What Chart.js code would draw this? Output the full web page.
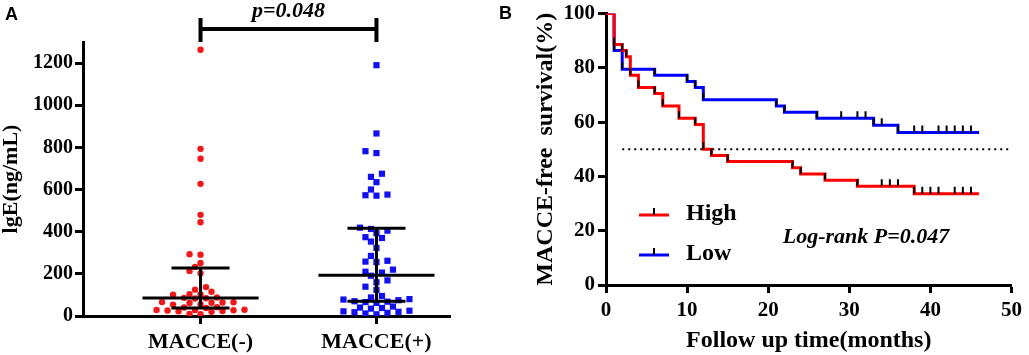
<!DOCTYPE html>
<html lang="en">
<head>
<meta charset="UTF-8">
<title>IgE by MACCE group and MACCE-free survival</title>
<script src="https://cdn.jsdelivr.net/npm/chart.js"></script>
<style>
  body { margin: 0; background: #fff; }
  .panel { position: absolute; top: 0; }
  #chartA { left: 0; }
  #chartB { left: 480px; }
</style>
</head>
<body>
<canvas id="chartA" class="panel" width="470" height="355"></canvas>
<canvas id="chartB" class="panel" width="549" height="355"></canvas>
<script>
// ---- panel A data: IgE (ng/mL) per patient ----
const groupLabels = ["MACCE(-)", "MACCE(+)"];
const macceNeg = [1263, 793, 746, 627, 480, 445, 293, 291, 252, 233, 214, 203, 137, 125, 115,
  104, 102, 101, 88, 86, 84, 83, 66, 65, 64, 63, 62, 56, 54, 42, 40, 38, 30, 29, 28, 27, 26,
  24, 22, 20, 10, 8];
const maccePos = [1190, 866, 782, 773, 675, 660, 635, 600, 576, 573, 571, 419, 413, 405, 393,
  374, 370, 353, 323, 285, 262, 258, 256, 220, 210, 206, 191, 169, 160, 139, 124, 95, 88, 80,
  78, 75, 70, 68, 66, 62, 45, 40, 38, 35, 25, 22, 20, 18, 15, 12, 8];
const groupMedian = [85, 193];
const groupQ1 = [38, 70];
const groupQ3 = [228, 416];
const igeTicks = [0, 200, 400, 600, 800, 1000, 1200];
const pValueA = "p=0.048";

// ---- panel B data: Kaplan-Meier steps (months, % MACCE-free) ----
const highTime = [0, 1, 2, 2.5, 3, 4, 6, 7, 9, 11, 12, 13, 15, 23, 24, 27, 31, 38, 46];
const highSurv = [100, 88.6, 86.4, 84.1, 77.3, 72.7, 70.5, 65.9, 61.4, 59.1, 50, 47.7, 45.5,
  43.2, 40.9, 38.6, 36.4, 33.6, 33.6];
const highCensor = [34, 35, 36, 39, 40, 41, 43, 44, 45];
const lowTime = [0, 1, 2, 6, 10, 11, 12, 21, 22, 26, 33, 36, 46];
const lowSurv = [100, 86.4, 79.5, 77.3, 75, 72.7, 68.2, 65.9, 63.6, 61.4, 58.8, 56.2, 56.2];
const lowCensor = [29, 31, 32, 34, 38, 39, 41, 42, 43, 44, 45];
const monthTicks = [0, 10, 20, 30, 40, 50];
const survTicks = [0, 20, 40, 60, 80, 100];
const refLevel = 50;
const refStart = 2;
const logRankText = "Log-rank P=0.047";

const SERIF = '"Liberation Serif", "Times New Roman", serif';
const RED = '#ff0000';
const BLUE = '#0000ff';
Chart.defaults.font.family = SERIF;
Chart.defaults.color = '#000';

// simple beeswarm: spread close values sideways so dots don't overlap
function swarm(values, centre) {
  const pxX = 176, pxY = 274 / 1300, gap = 6.6, step = 5.5;
  const placed = [];
  return values.slice().sort((a, b) => a - b).map(v => {
    const py = v * pxY;
    for (let k = 0; k < 60; k++) {
      const offs = k === 0 ? [0] : [-k * step, k * step];
      for (const ox of offs) {
        if (placed.every(p => (p.x - ox) ** 2 + (p.y - py) ** 2 >= gap * gap)) {
          placed.push({ x: ox, y: py });
          return { x: centre + ox / pxX, y: v };
        }
      }
    }
  });
}

// median line + interquartile whiskers for one group, null-separated segments
function errorBars(i) {
  const c = i + 1, med = groupMedian[i], lo = groupQ1[i], hi = groupQ3[i];
  return [
    { x: c - 0.33, y: med }, { x: c + 0.33, y: med }, { x: c, y: null },
    { x: c - 0.165, y: hi }, { x: c + 0.165, y: hi }, { x: c, y: null },
    { x: c - 0.165, y: lo }, { x: c + 0.165, y: lo }, { x: c, y: null },
    { x: c, y: lo }, { x: c, y: hi }
  ];
}

const axisGrid = { display: true, drawOnChartArea: false, drawTicks: true, tickLength: 8,
  tickWidth: 3, tickColor: '#000', color: '#000' };
const axisBorder = { display: true, color: '#000', width: 3 };
const tickFont = (size) => ({ family: SERIF, size: size, weight: 'bold', lineHeight: 1 });
const plain = v => String(v);

const annotA = {
  id: 'annotA',
  afterDraw(chart) {
    const ctx = chart.ctx, x = chart.scales.x;
    const x1 = x.getPixelForValue(1), x2 = x.getPixelForValue(2);
    ctx.save();
    ctx.strokeStyle = '#000';
    ctx.lineWidth = 4;
    ctx.beginPath();
    ctx.moveTo(x1, 29); ctx.lineTo(x2, 29);
    ctx.moveTo(x1, 18); ctx.lineTo(x1, 42);
    ctx.moveTo(x2, 18); ctx.lineTo(x2, 42);
    ctx.stroke();
    ctx.fillStyle = '#000';
    ctx.textAlign = 'center';
    ctx.textBaseline = 'alphabetic';
    ctx.font = 'italic bold 22px ' + SERIF;
    ctx.fillText(pValueA, (x1 + x2) / 2, 17);
    ctx.textAlign = 'left';
    ctx.font = 'bold 18px "Liberation Sans", Arial, sans-serif';
    ctx.fillText('A', 5, 20);
    ctx.restore();
  }
};

new Chart(document.getElementById('chartA'), {
  type: 'scatter',
  data: {
    datasets: [
      { data: errorBars(0), showLine: true, borderColor: '#000', borderWidth: 3, pointRadius: 0, spanGaps: false },
      { data: errorBars(1), showLine: true, borderColor: '#000', borderWidth: 3, pointRadius: 0, spanGaps: false },
      { label: groupLabels[0], data: swarm(macceNeg, 1), pointStyle: 'circle', pointRadius: 3.2,
        backgroundColor: '#f01818', borderWidth: 0 },
      { label: groupLabels[1], data: swarm(maccePos, 2), pointStyle: 'rect', pointRadius: 4.4,
        backgroundColor: '#1010f0', borderWidth: 0 }
    ]
  },
  options: {
    responsive: false,
    animation: false,
    layout: { padding: { top: 42, right: 20, left: 0, bottom: 0 } },
    plugins: { legend: { display: false }, tooltip: { enabled: false } },
    scales: {
      x: {
        type: 'linear', min: 0.332, max: 2.418,
        afterBuildTicks: s => { s.ticks = groupLabels.map((_, i) => ({ value: i + 1 })); },
        afterFit: s => { s.height = 39; },
        ticks: { callback: (v, i) => groupLabels[i], color: '#000', font: tickFont(22), padding: 7,
          maxRotation: 0, autoSkip: false },
        grid: axisGrid,
        border: axisBorder
      },
      y: {
        min: 0, max: 1300,
        afterBuildTicks: s => { s.ticks = igeTicks.map(v => ({ value: v })); },
        afterFit: s => { s.width = 83; },
        ticks: { callback: plain, color: '#000', font: tickFont(20), padding: 2 },
        grid: axisGrid,
        border: axisBorder,
        title: { display: true, text: 'lgE(ng/mL)', color: '#000', font: tickFont(22),
          padding: { top: 0, bottom: 0 } }
      }
    }
  },
  plugins: [annotA]
});

// ---- panel B ----
function survAt(times, surv, t) {
  let s = surv[0];
  for (let i = 0; i < times.length; i++) if (times[i] <= t) s = surv[i];
  return s;
}

const annotB = {
  id: 'annotB',
  afterDatasetsDraw(chart) {
    const ctx = chart.ctx, x = chart.scales.x, y = chart.scales.y;
    ctx.save();
    ctx.strokeStyle = '#000';
    ctx.lineWidth = 2;
    ctx.beginPath();
    // tick symbol at every event point (new level) and every censored subject
    [[highTime, highSurv, highCensor], [lowTime, lowSurv, lowCensor]].forEach(([t, s, c]) => {
      const marks = t.slice(1, -1).concat(c);
      marks.forEach(mt => {
        const px = x.getPixelForValue(mt), py = y.getPixelForValue(survAt(t, s, mt));
        ctx.moveTo(px, py); ctx.lineTo(px, py - 7);
      });
    });
    ctx.stroke();

    // legend
    const items = chart.data.datasets.slice(0, 2);
    items.forEach((ds, i) => {
      const ly = 215 + i * 40;
      ctx.strokeStyle = ds.borderColor;
      ctx.lineWidth = 3;
      ctx.beginPath(); ctx.moveTo(159, ly); ctx.lineTo(189, ly); ctx.stroke();
      ctx.strokeStyle = '#000';
      ctx.lineWidth = 2;
      ctx.beginPath(); ctx.moveTo(174, ly); ctx.lineTo(174, ly - 7); ctx.stroke();
      ctx.fillStyle = '#000';
      ctx.font = 'bold 24px ' + SERIF;
      ctx.textAlign = 'left';
      ctx.textBaseline = 'middle';
      ctx.fillText(ds.label, 206, ly - 1);
    });

    ctx.font = 'italic bold 22px ' + SERIF;
    ctx.textAlign = 'center';
    ctx.textBaseline = 'middle';
    ctx.fillText(logRankText, 386, 237);

    ctx.textAlign = 'left';
    ctx.textBaseline = 'alphabetic';
    ctx.font = 'bold 18px "Liberation Sans", Arial, sans-serif';
    ctx.fillText('B', 19, 19);
    ctx.restore();
  }
};

const toPoints = (t, s) => t.map((v, i) => ({ x: v, y: s[i] }));

new Chart(document.getElementById('chartB'), {
  type: 'line',
  data: {
    datasets: [
      { label: 'High', data: toPoints(highTime, highSurv), stepped: true, borderColor: RED,
        borderWidth: 3, pointRadius: 0, fill: false },
      { label: 'Low', data: toPoints(lowTime, lowSurv), stepped: true, borderColor: BLUE,
        borderWidth: 3, pointRadius: 0, fill: false },
      { label: 'ref', data: [{ x: refStart, y: refLevel }, { x: monthTicks[monthTicks.length - 1], y: refLevel }],
        borderColor: '#000', borderWidth: 2, borderDash: [2, 4], pointRadius: 0, fill: false }
    ]
  },
  options: {
    responsive: false,
    animation: false,
    layout: { padding: { top: 12, right: 12, left: 0, bottom: 0 } },
    plugins: { legend: { display: false }, tooltip: { enabled: false } },
    scales: {
      x: {
        type: 'linear', min: 0, max: 50,
        afterBuildTicks: s => { s.ticks = monthTicks.map(v => ({ value: v })); },
        afterFit: s => { s.height = 70; },
        ticks: { callback: plain, color: '#000', font: tickFont(21), padding: 7, maxRotation: 0 },
        grid: axisGrid,
        border: axisBorder,
        title: { display: true, text: 'Follow up time(months)', color: '#000', font: tickFont(24),
          padding: { top: 0, bottom: 2 } }
      },
      y: {
        min: 0, max: 100,
        afterBuildTicks: s => { s.ticks = survTicks.map(v => ({ value: v })); },
        afterFit: s => { s.width = 126; },
        ticks: { callback: plain, color: '#000', font: tickFont(21), padding: 3 },
        grid: axisGrid,
        border: axisBorder,
        title: { display: true, text: 'MACCE-free  survival(%)', color: '#000', font: tickFont(24),
          padding: { top: 54, bottom: 0 } }
      }
    }
  },
  plugins: [annotB]
});
</script>
</body>
</html>
